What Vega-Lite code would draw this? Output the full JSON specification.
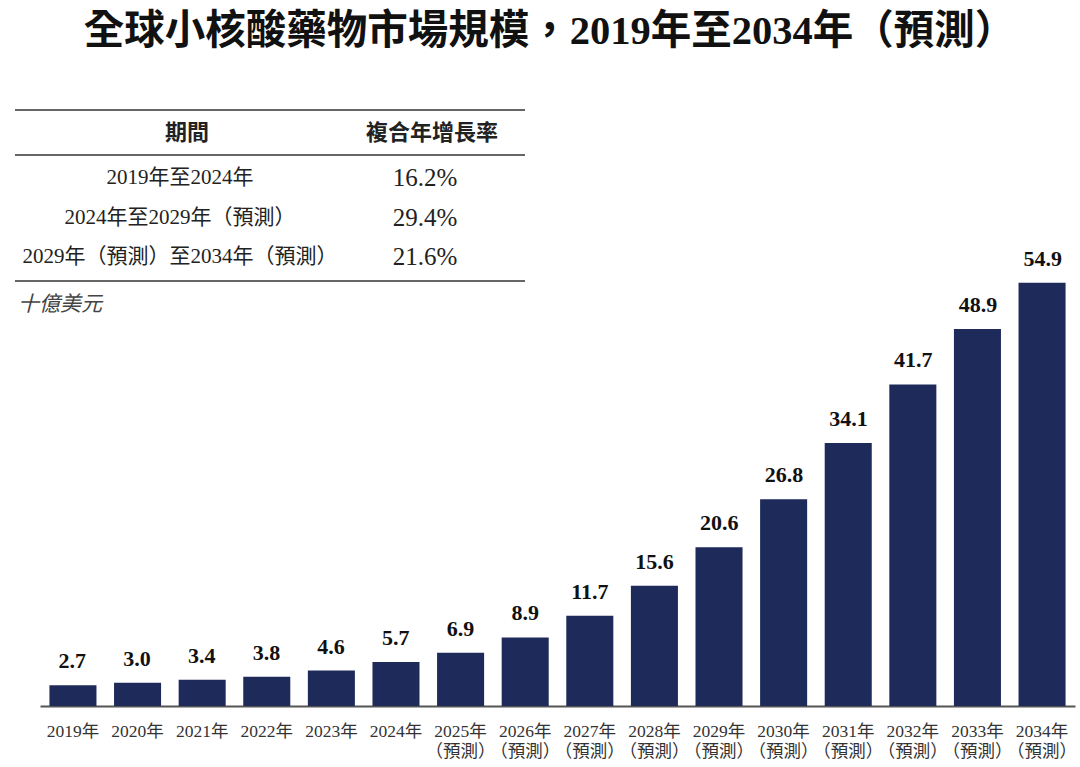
{
  "$schema": "https://vega.github.io/schema/vega-lite/v6.json",
  "width": 1035,
  "height": 606,
  "autosize": {"type": "none"},
  "padding": {"left": 40, "top": 100, "right": 5, "bottom": 61},
  "background": "white",
  "title": {
    "text": "全球小核酸藥物市場規模，2019年至2034年（預測）",
    "font": "'Liberation Serif', 'Noto Sans CJK TC'",
    "fontSize": 40.5,
    "fontWeight": "bold",
    "color": "#111111",
    "anchor": "middle",
    "baseline": "bottom",
    "offset": 7,
    "dx": -8
  },
  "config": {"view": {"stroke": null}},
  "datasets": {
    "market": [
      {"label": "2019年", "value": 2.7},
      {"label": "2020年", "value": 3.0},
      {"label": "2021年", "value": 3.4},
      {"label": "2022年", "value": 3.8},
      {"label": "2023年", "value": 4.6},
      {"label": "2024年", "value": 5.7},
      {"label": "2025年|（預測）", "value": 6.9},
      {"label": "2026年|（預測）", "value": 8.9},
      {"label": "2027年|（預測）", "value": 11.7},
      {"label": "2028年|（預測）", "value": 15.6},
      {"label": "2029年|（預測）", "value": 20.6},
      {"label": "2030年|（預測）", "value": 26.8},
      {"label": "2031年|（預測）", "value": 34.1},
      {"label": "2032年|（預測）", "value": 41.7},
      {"label": "2033年|（預測）", "value": 48.9},
      {"label": "2034年|（預測）", "value": 54.9}
    ],
    "header": [
      {"row": "header", "col": "c1", "text": "期間"},
      {"row": "header", "col": "c2", "text": "複合年增長率"}
    ],
    "hrules": [
      {"row": "top"},
      {"row": "mid"}
    ],
    "periods": [
      {"row": "r1", "text": "2019年至2024年"},
      {"row": "r2", "text": "2024年至2029年（預測）"},
      {"row": "r3", "text": "2029年（預測）至2034年（預測）"}
    ],
    "rates": [
      {"row": "r1", "text": "16.2%"},
      {"row": "r2", "text": "29.4%"},
      {"row": "r3", "text": "21.6%"}
    ],
    "brule": [
      {"row": "bottom"}
    ],
    "unit": [
      {"row": "unit", "text": "十億美元"}
    ]
  },
  "resolve": {
    "scale": {"x": "independent", "y": "independent"},
    "axis": {"x": "independent", "y": "independent"}
  },
  "layer": [
    {
      "data": {"name": "market"},
      "mark": {"type": "bar", "color": "#1e2a5a"},
      "encoding": {
        "x": {
          "field": "label",
          "type": "ordinal",
          "sort": null,
          "scale": {"paddingInner": 0.272, "paddingOuter": 0.146},
          "axis": {
            "title": null,
            "labelAngle": 0,
            "ticks": false,
            "domainColor": "#555555",
            "domainWidth": 2,
            "labelFont": "'Liberation Serif', 'Noto Sans CJK TC'",
            "labelFontSize": 17.5,
            "labelColor": "#333333",
            "labelPadding": 16,
            "labelLineHeight": 20,
            "labelOverlap": false,
            "labelExpr": "split(datum.value, '|')"
          }
        },
        "y": {
          "field": "value",
          "type": "quantitative",
          "scale": {"domain": [0, 78.6]},
          "axis": null
        }
      }
    },
    {
      "data": {"name": "market"},
      "mark": {
        "type": "text",
        "font": "'Liberation Serif', 'Noto Sans CJK TC'",
        "fontSize": 22,
        "fontWeight": "bold",
        "color": "#111111",
        "baseline": "alphabetic",
        "dy": -17
      },
      "encoding": {
        "x": {
          "field": "label",
          "type": "ordinal",
          "sort": null,
          "scale": {"paddingInner": 0.272, "paddingOuter": 0.146},
          "axis": null
        },
        "y": {
          "field": "value",
          "type": "quantitative",
          "scale": {"domain": [0, 78.6]},
          "axis": null
        },
        "text": {"field": "value", "type": "quantitative", "format": ".1f"}
      }
    },
    {
      "data": {"name": "header"},
      "mark": {
        "type": "text",
        "font": "'Noto Sans CJK TC'",
        "fontSize": 22,
        "fontWeight": "bold",
        "color": "#222222"
      },
      "encoding": {
        "x": {
          "field": "col",
          "type": "nominal",
          "scale": {"type": "point", "domain": ["c1", "c2"], "range": [147, 392], "padding": 0},
          "axis": null
        },
        "y": {
          "field": "row",
          "type": "nominal",
          "scale": {"type": "point", "domain": ["top", "header", "mid"], "range": [10, 55], "padding": 0},
          "axis": null
        },
        "text": {"field": "text"}
      }
    },
    {
      "data": {"name": "hrules"},
      "mark": {"type": "rule", "color": "#333333", "strokeWidth": 1.6},
      "encoding": {
        "y": {
          "field": "row",
          "type": "nominal",
          "scale": {"type": "point", "domain": ["top", "header", "mid"], "range": [10, 55], "padding": 0},
          "axis": null
        },
        "x": {
          "datum": 0,
          "type": "quantitative",
          "scale": {"domain": [0, 1], "range": [-25, 485]},
          "axis": null
        },
        "x2": {"datum": 1}
      }
    },
    {
      "data": {"name": "periods"},
      "mark": {
        "type": "text",
        "font": "'Liberation Serif', 'Noto Sans CJK TC'",
        "fontSize": 21,
        "color": "#222222"
      },
      "encoding": {
        "x": {
          "datum": 0,
          "type": "quantitative",
          "scale": {"domain": [0, 1], "range": [140, 485]},
          "axis": null
        },
        "y": {
          "field": "row",
          "type": "nominal",
          "scale": {"type": "point", "domain": ["r1", "r2", "r3"], "range": [78, 157], "padding": 0},
          "axis": null
        },
        "text": {"field": "text"}
      }
    },
    {
      "data": {"name": "rates"},
      "mark": {
        "type": "text",
        "font": "'Liberation Serif', 'Noto Sans CJK TC'",
        "fontSize": 25,
        "color": "#222222"
      },
      "encoding": {
        "x": {
          "datum": 0,
          "type": "quantitative",
          "scale": {"domain": [0, 1], "range": [385, 485]},
          "axis": null
        },
        "y": {
          "field": "row",
          "type": "nominal",
          "scale": {"type": "point", "domain": ["r1", "r2", "r3"], "range": [78, 157], "padding": 0},
          "axis": null
        },
        "text": {"field": "text"}
      }
    },
    {
      "data": {"name": "brule"},
      "mark": {"type": "rule", "color": "#333333", "strokeWidth": 1.6},
      "encoding": {
        "y": {
          "field": "row",
          "type": "nominal",
          "scale": {"type": "point", "domain": ["bottom", "unit"], "range": [181, 205], "padding": 0},
          "axis": null
        },
        "x": {
          "datum": 0,
          "type": "quantitative",
          "scale": {"domain": [0, 1], "range": [-25, 485]},
          "axis": null
        },
        "x2": {"datum": 1}
      }
    },
    {
      "data": {"name": "unit"},
      "mark": {
        "type": "text",
        "font": "'Liberation Serif', 'Noto Sans CJK TC'",
        "fontSize": 21,
        "fontStyle": "italic",
        "color": "#444444",
        "align": "left"
      },
      "encoding": {
        "y": {
          "field": "row",
          "type": "nominal",
          "scale": {"type": "point", "domain": ["bottom", "unit"], "range": [181, 205], "padding": 0},
          "axis": null
        },
        "x": {
          "datum": 0,
          "type": "quantitative",
          "scale": {"domain": [0, 1], "range": [-22, 485]},
          "axis": null
        },
        "text": {"field": "text"}
      }
    }
  ]
}
